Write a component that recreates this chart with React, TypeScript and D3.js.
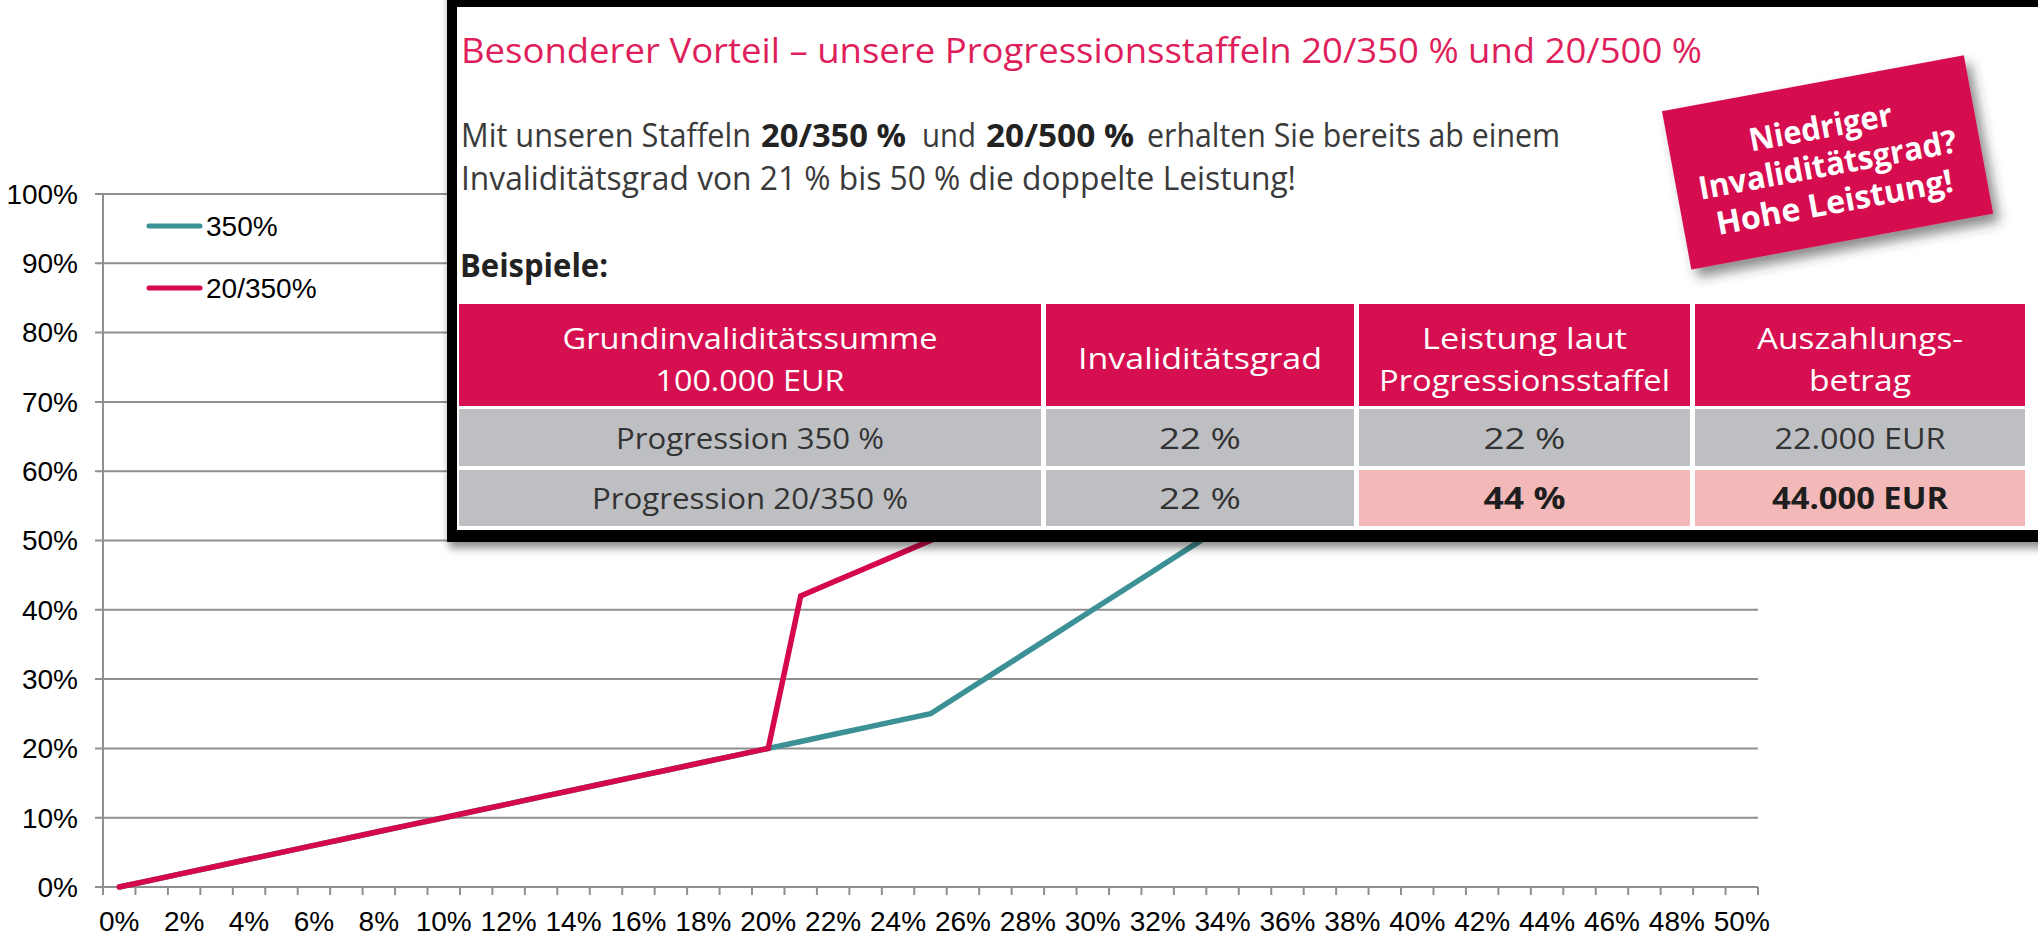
import React, { useRef, useEffect } from 'react';
import * as d3 from 'd3';

// x categories: Invaliditätsgrad in %, one category per percent
const xCategories = [
  0, 1, 2, 3, 4, 5, 6, 7, 8, 9, 10, 11, 12, 13, 14, 15, 16, 17, 18, 19, 20,
  21, 22, 23, 24, 25, 26, 27, 28, 29, 30, 31, 32, 33, 34, 35, 36, 37, 38, 39, 40,
  41, 42, 43, 44, 45, 46, 47, 48, 49, 50,
];
// only every 2nd category gets a label
const xTickLabels = [
  '0%', '2%', '4%', '6%', '8%', '10%', '12%', '14%', '16%', '18%', '20%', '22%', '24%',
  '26%', '28%', '30%', '32%', '34%', '36%', '38%', '40%', '42%', '44%', '46%', '48%', '50%',
];
const yTicks = [0, 10, 20, 30, 40, 50, 60, 70, 80, 90, 100];

// Leistung in %
const series350 = [
  0, 1, 2, 3, 4, 5, 6, 7, 8, 9, 10, 11, 12, 13, 14, 15, 16, 17, 18, 19, 20,
  21, 22, 23, 24, 25, 28, 31, 34, 37, 40, 43, 46, 49, 52, 55, 58, 61, 64, 67, 70,
  73, 76, 79, 82, 85, 88, 91, 94, 97, 100,
];
const series20350 = [
  0, 1, 2, 3, 4, 5, 6, 7, 8, 9, 10, 11, 12, 13, 14, 15, 16, 17, 18, 19, 20,
  42, 44, 46, 48, 50, 52, 54, 56, 58, 60, 62, 64, 66, 68, 70, 72, 74, 76, 78, 80,
  82, 84, 86, 88, 90, 92, 94, 96, 98, 100,
];
const seriesNames = ['350%', '20/350%'];
const seriesColors = ['#3C9196', '#D5084E'];

// the pasted info box
const boxTitle = 'Besonderer Vorteil – unsere Progressionsstaffeln 20/350 % und 20/500 %';
const boxLine1 = [
  ['Mit unseren Staffeln', 'normal'],
  ['20/350 %', 'bold'],
  ['und', 'normal'],
  ['20/500 %', 'bold'],
  ['erhalten Sie bereits ab einem', 'normal'],
];
const boxLine2 = 'Invaliditätsgrad von 21 % bis 50 % die doppelte Leistung!';
const boxSubhead = 'Beispiele:';
const tableHeader = [
  ['Grundinvaliditätssumme', '100.000 EUR'],
  ['Invaliditätsgrad'],
  ['Leistung laut', 'Progressionsstaffel'],
  ['Auszahlungs-', 'betrag'],
];
const tableRows = [
  ['Progression 350 %', '22 %', '22 %', '22.000 EUR'],
  ['Progression 20/350 %', '22 %', '44 %', '44.000 EUR'],
];
const badgeLines = ['Niedriger', 'Invaliditätsgrad?', 'Hohe Leistung!'];

function App() {
  const chart = useRef<SVGSVGElement>(null);

  useEffect(() => {
    const svg = d3.select(chart.current);
    svg.selectAll('*').remove();

    const W = 2038;
    const H = 937;
    const margin = { top: 194, right: 280, bottom: 50, left: 103 };
    const axisFont = "'Liberation Sans', Arial, sans-serif";
    const boxFont = "'Open Sans', 'Noto Sans', sans-serif";
    const grid = '#8F8F8F';

    const x = d3
      .scaleBand()
      .domain(xCategories.map(String))
      .range([margin.left, W - margin.right]);
    const y = d3
      .scaleLinear()
      .domain([0, 100])
      .range([H - margin.bottom, margin.top]);
    const bw = x.bandwidth();

    const defs = svg.append('defs');
    const f1 = defs.append('filter').attr('id', 'boxShadow')
      .attr('x', '-5%').attr('y', '-5%').attr('width', '110%').attr('height', '120%');
    f1.append('feDropShadow').attr('dx', 2).attr('dy', 6).attr('stdDeviation', 4)
      .attr('flood-color', '#000').attr('flood-opacity', 0.45);
    const f2 = defs.append('filter').attr('id', 'badgeShadow')
      .attr('x', '-20%').attr('y', '-20%').attr('width', '140%').attr('height', '150%');
    f2.append('feDropShadow').attr('dx', 5).attr('dy', 9).attr('stdDeviation', 6)
      .attr('flood-color', '#333').attr('flood-opacity', 0.55);

    // gridlines + y ticks
    svg.append('g')
      .selectAll('line')
      .data(yTicks)
      .join('line')
      .attr('x1', margin.left - 8)
      .attr('x2', W - margin.right)
      .attr('y1', d => y(d))
      .attr('y2', d => y(d))
      .attr('stroke', grid)
      .attr('stroke-width', 2);

    svg.append('line')
      .attr('x1', margin.left).attr('x2', margin.left)
      .attr('y1', y(100)).attr('y2', y(0) + 8)
      .attr('stroke', grid).attr('stroke-width', 2);

    svg.append('g')
      .selectAll('text')
      .data(yTicks)
      .join('text')
      .attr('x', 78)
      .attr('y', d => y(d))
      .attr('dy', '0.35em')
      .attr('text-anchor', 'end')
      .attr('font-family', axisFont)
      .attr('font-size', 28)
      .attr('fill', '#000')
      .text(d => d + '%');

    // x ticks at category boundaries
    const bounds = xCategories.map(c => x(String(c)) as number).concat([W - margin.right]);
    svg.append('g')
      .selectAll('line')
      .data(bounds.slice(1))
      .join('line')
      .attr('x1', d => d).attr('x2', d => d)
      .attr('y1', y(0)).attr('y2', y(0) + 8)
      .attr('stroke', grid).attr('stroke-width', 2);

    svg.append('g')
      .selectAll('text')
      .data(xTickLabels)
      .join('text')
      .attr('x', (d, i) => (x(String(xCategories[i * 2])) as number) + bw / 2)
      .attr('y', 931)
      .attr('text-anchor', 'middle')
      .attr('font-family', axisFont)
      .attr('font-size', 28)
      .attr('fill', '#000')
      .text(d => d);

    // lines
    const line = d3.line<number>()
      .x((d, i) => (x(String(xCategories[i])) as number) + bw / 2)
      .y(d => y(d));
    [series350, series20350].forEach((s, k) => {
      svg.append('path')
        .datum(s)
        .attr('d', line)
        .attr('fill', 'none')
        .attr('stroke', seriesColors[k])
        .attr('stroke-width', 5.5)
        .attr('stroke-linecap', 'round')
        .attr('stroke-linejoin', 'miter');
    });

    // legend
    const legend = svg.append('g');
    seriesNames.forEach((name, k) => {
      const ly = 226 + k * 62;
      legend.append('line')
        .attr('x1', 149).attr('x2', 200).attr('y1', ly).attr('y2', ly)
        .attr('stroke', seriesColors[k]).attr('stroke-width', 5)
        .attr('stroke-linecap', 'round');
      legend.append('text')
        .attr('x', 206).attr('y', ly).attr('dy', '0.35em')
        .attr('font-family', axisFont).attr('font-size', 28)
        .text(name);
    });

    // ---- pasted info box on top ----
    const box = svg.append('g');
    box.append('rect')
      .attr('x', 447).attr('y', -20).attr('width', 1700).attr('height', 562)
      .attr('fill', '#000').attr('filter', 'url(#boxShadow)');
    box.append('rect')
      .attr('x', 457).attr('y', 7).attr('width', 1700).attr('height', 523)
      .attr('fill', '#fff');

    const txt = (g: any, s: string, tx: number, ty: number, len: number, o: any = {}) =>
      g.append('text')
        .attr('x', tx).attr('y', ty)
        .attr('font-family', boxFont)
        .attr('font-size', o.size || 32)
        .attr('font-weight', o.weight || 'normal')
        .attr('fill', o.fill || '#3a3a3a')
        .attr('text-anchor', o.anchor || 'start')
        .attr('textLength', len)
        .attr('lengthAdjust', 'spacingAndGlyphs')
        .text(s);

    txt(box, boxTitle, 461, 63, 1241, { size: 35, fill: '#DE1F5C' });

    const line1X = [461, 761, 922, 986, 1147];
    const line1L = [290, 145, 54, 148, 413];
    boxLine1.forEach(([s, w], i) => {
      txt(box, s, line1X[i], 147, line1L[i], { weight: w, fill: w === 'bold' ? '#222' : '#3a3a3a' });
    });
    txt(box, boxLine2, 461, 190, 835);
    txt(box, boxSubhead, 460, 277, 148, { size: 32, weight: 'bold', fill: '#222' });

    // table
    const cols = [[459, 1041], [1046, 1354], [1359, 1690], [1695, 2025]];
    const rows = [[304, 406], [409, 466], [470, 526]];
    const headLen = [[375, 189], [244], [205, 291], [206, 102]];
    const rowLen = [[268, 82, 82, 171], [316, 82, 82, 176]];

    cols.forEach((c, ci) => {
      box.append('rect')
        .attr('x', c[0]).attr('y', rows[0][0])
        .attr('width', c[1] - c[0]).attr('height', rows[0][1] - rows[0][0])
        .attr('fill', '#D50F50');
      const cx = (c[0] + c[1]) / 2;
      const lines = tableHeader[ci];
      const ys = lines.length === 2 ? [349, 391] : [369];
      lines.forEach((s, li) => {
        txt(box, s, cx, ys[li], headLen[ci][li], { size: 30, fill: '#fff', anchor: 'middle' });
      });
    });

    tableRows.forEach((r, ri) => {
      const [r0, r1] = rows[ri + 1];
      r.forEach((s, ci) => {
        const hi = ri === 1 && ci >= 2;
        const c = cols[ci];
        box.append('rect')
          .attr('x', c[0]).attr('y', r0)
          .attr('width', c[1] - c[0]).attr('height', r1 - r0)
          .attr('fill', hi ? '#F2B9B8' : '#BEBFC3');
        txt(box, s, (c[0] + c[1]) / 2, (r0 + r1) / 2 + 11, rowLen[ri][ci], {
          size: 30,
          anchor: 'middle',
          weight: hi ? 'bold' : 'normal',
          fill: hi ? '#1e1e1e' : '#333',
        });
      });
    });

    // badge
    const badge = box.append('g')
      .attr('transform', 'translate(1827,162) rotate(-10.5)');
    badge.append('rect')
      .attr('x', -153).attr('y', -80).attr('width', 307).attr('height', 161)
      .attr('fill', '#D50F50').attr('filter', 'url(#badgeShadow)');
    const badgeLen = [145, 262, 240];
    badgeLines.forEach((s, i) => {
      txt(badge, s, 0, -24 + i * 38, badgeLen[i], {
        size: 32, weight: 'bold', fill: '#fff', anchor: 'middle',
      });
    });
  }, []);

  return (
    <svg
      ref={chart}
      width={2038}
      height={937}
      style={{ position: 'absolute', left: 0, top: 0, background: '#fff' }}
    />
  );
}

export default App;
